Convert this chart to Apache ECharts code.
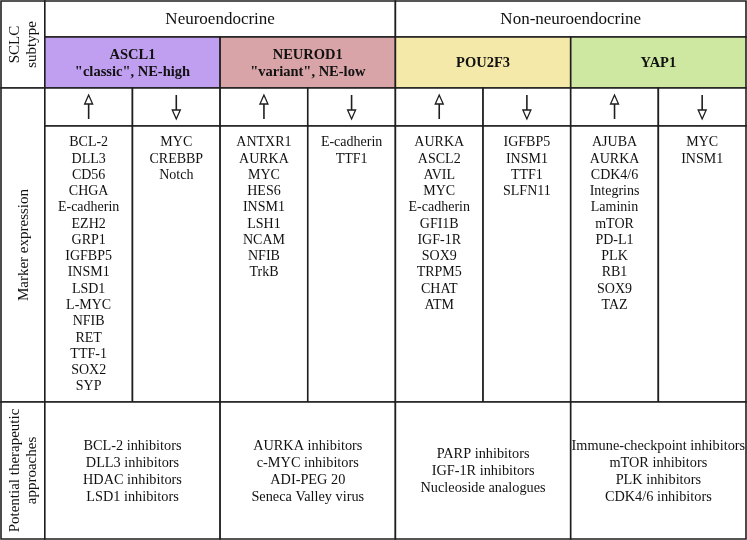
<!DOCTYPE html>
<html>
<head>
<meta charset="utf-8">
<script src="https://cdn.jsdelivr.net/npm/echarts@6/dist/echarts.min.js"></script>
<style>html,body{margin:0;padding:0;background:#fff}#c{width:747px;height:540px}</style>
</head>
<body>
<div id="c"></div>
<script>
// ---- content ----
const groups = ['Neuroendocrine', 'Non-neuroendocrine'];
const subtypes = ['ASCL1', 'NEUROD1', 'POU2F3', 'YAP1'];
const subtypeNotes = ['"classic", NE-high', '"variant", NE-low', '', ''];
const rowLabels = ['SCLC\nsubtype', 'Marker expression', 'Potential therapeutic\napproaches'];
const markersUp = [
  ['BCL-2','DLL3','CD56','CHGA','E-cadherin','EZH2','GRP1','IGFBP5','INSM1','LSD1','L-MYC','NFIB','RET','TTF-1','SOX2','SYP'],
  ['ANTXR1','AURKA','MYC','HES6','INSM1','LSH1','NCAM','NFIB','TrkB'],
  ['AURKA','ASCL2','AVIL','MYC','E-cadherin','GFI1B','IGF-1R','SOX9','TRPM5','CHAT','ATM'],
  ['AJUBA','AURKA','CDK4/6','Integrins','Laminin','mTOR','PD-L1','PLK','RB1','SOX9','TAZ']
];
const markersDown = [
  ['MYC','CREBBP','Notch'],
  ['E-cadherin','TTF1'],
  ['IGFBP5','INSM1','TTF1','SLFN11'],
  ['MYC','INSM1']
];
const therapies = [
  ['BCL-2 inhibitors','DLL3 inhibitors','HDAC inhibitors','LSD1 inhibitors'],
  ['AURKA inhibitors','c-MYC inhibitors','ADI-PEG 20','Seneca Valley virus'],
  ['PARP inhibitors','IGF-1R inhibitors','Nucleoside analogues'],
  ['Immune-checkpoint inhibitors','mTOR inhibitors','PLK inhibitors','CDK4/6 inhibitors']
];

// ---- layout / style ----
const palette = ['#c19ff0', '#d8a4a7', '#f4e9a8', '#cee8a1'];
const rowEdges = [0, 36, 87, 125, 401, 538];
const FONT = '"Liberation Serif", "Times New Roman", serif';
const LINE = '#1e1e1e';

// build cells
const cells = [];
cells.push({x0:-0.5,x1:0,r0:0,r1:2,text:rowLabels[0],kind:'rot'});
cells.push({x0:-0.5,x1:0,r0:2,r1:4,text:rowLabels[1],kind:'rot'});
cells.push({x0:-0.5,x1:0,r0:4,r1:5,text:rowLabels[2],kind:'rot'});
groups.forEach((g,i)=>cells.push({x0:i*4,x1:i*4+4,r0:0,r1:1,text:g,kind:'group'}));
subtypes.forEach((s,i)=>{
  const t = subtypeNotes[i] ? s + '\n' + subtypeNotes[i] : s;
  cells.push({x0:i*2,x1:i*2+2,r0:1,r1:2,text:t,kind:'subtype',fill:palette[i]});
});
subtypes.forEach((s,i)=>{
  cells.push({x0:i*2,x1:i*2+1,r0:2,r1:3,kind:'up'});
  cells.push({x0:i*2+1,x1:i*2+2,r0:2,r1:3,kind:'down'});
  cells.push({x0:i*2,x1:i*2+1,r0:3,r1:4,text:markersUp[i].join('\n'),kind:'marker'});
  cells.push({x0:i*2+1,x1:i*2+2,r0:3,r1:4,text:markersDown[i].join('\n'),kind:'marker'});
  cells.push({x0:i*2,x1:i*2+2,r0:4,r1:5,text:therapies[i].join('\n'),kind:'therapy'});
});

function renderItem(params, api) {
  const c = cells[params.dataIndex];
  const p0 = api.coord([c.x0, rowEdges[c.r0]]);
  const p1 = api.coord([c.x1, rowEdges[c.r1]]);
  const x = p0[0], y = p0[1], w = p1[0]-p0[0], h = p1[1]-p0[1];
  const cx = x + w/2, cy = y + h/2;
  const children = [{
    type:'rect', shape:{x:x,y:y,width:w,height:h},
    style:{fill:c.fill||'#fff', stroke:LINE, lineWidth:1.6}
  }];
  if (c.kind === 'rot') {
    children.push({type:'text', x:cx+1, y:cy, rotation:Math.PI/2,
      style:{text:c.text, align:'center', verticalAlign:'middle', font:'15px '+FONT, lineHeight:17, fill:'#111'}});
  } else if (c.kind === 'group') {
    children.push({type:'text', x:cx, y:cy+1,
      style:{text:c.text, align:'center', verticalAlign:'middle', font:'17px '+FONT, fill:'#111'}});
  } else if (c.kind === 'subtype') {
    children.push({type:'text', x:cx, y:cy+1,
      style:{text:c.text, align:'center', verticalAlign:'middle', font:'bold 14.5px '+FONT, lineHeight:17, fill:'#111'}});
  } else if (c.kind === 'marker') {
    children.push({type:'text', x:cx, y:y+8.5,
      style:{text:c.text, align:'center', verticalAlign:'top', font:'14px '+FONT, lineHeight:16.27, fill:'#111'}});
  } else if (c.kind === 'therapy') {
    children.push({type:'text', x:cx, y:cy+1,
      style:{text:c.text, align:'center', verticalAlign:'middle', font:'14.3px '+FONT, lineHeight:17.1, fill:'#111'}});
  } else if (c.kind === 'up') {
    children.push({type:'line', shape:{x1:cx,y1:cy+12,x2:cx,y2:cy-3}, style:{stroke:LINE,lineWidth:1.6}});
    children.push({type:'polygon', shape:{points:[[cx,cy-12],[cx-4,cy-3],[cx+4,cy-3]]}, style:{fill:'#fff',stroke:LINE,lineWidth:1.3}});
  } else if (c.kind === 'down') {
    children.push({type:'line', shape:{x1:cx,y1:cy-12,x2:cx,y2:cy+3}, style:{stroke:LINE,lineWidth:1.6}});
    children.push({type:'polygon', shape:{points:[[cx,cy+12],[cx-4,cy+3],[cx+4,cy+3]]}, style:{fill:'#fff',stroke:LINE,lineWidth:1.3}});
  }
  return {type:'group', children:children};
}

const chart = echarts.init(document.getElementById('c'), null, {renderer:'canvas'});
chart.setOption({
  animation:false,
  backgroundColor:'#fff',
  grid:{left:1, right:1, top:1, bottom:1},
  xAxis:{type:'value', min:-0.5, max:8, show:false},
  yAxis:{type:'value', min:0, max:538, inverse:true, show:false},
  series:[{
    type:'custom',
    renderItem:renderItem,
    data:cells.map((c,i)=>[c.x0, rowEdges[c.r0], c.x1, rowEdges[c.r1]]),
    encode:{x:[0,2], y:[1,3]},
    clip:false
  }]
});
</script>
</body>
</html>
